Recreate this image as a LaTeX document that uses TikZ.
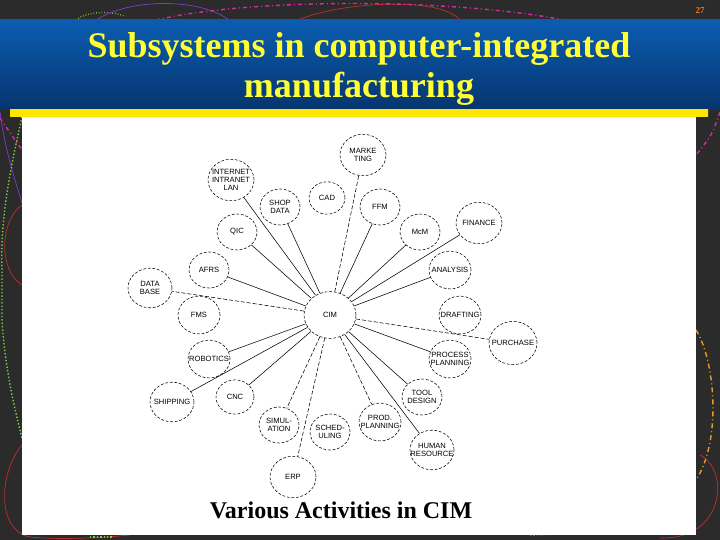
\documentclass[tikz,border=0pt]{standalone}
\usepackage{fontspec}
\setmainfont{Liberation Serif}
\setsansfont{Liberation Sans}
\usetikzlibrary{shapes.geometric}

\definecolor{slidegray}{HTML}{2B2B2B}
\definecolor{bannertop}{HTML}{0B5CB0}
\definecolor{bannermid}{HTML}{1E90E8}
\definecolor{bannerbot}{HTML}{06356E}
\definecolor{titleyellow}{HTML}{FFFF33}
\definecolor{baryellow}{HTML}{FFE600}
\definecolor{barred}{HTML}{FF1A00}
\definecolor{slidenum}{HTML}{E87820}
\definecolor{decopurple}{HTML}{7A3FC8}
\definecolor{decomag}{HTML}{D62AA8}
\definecolor{decored}{HTML}{C0302A}
\definecolor{decogreen}{HTML}{7FD23C}
\definecolor{decoorange}{HTML}{E89A2A}

\begin{document}
\begin{tikzpicture}[x=1pt, y=-1pt,
    act/.style={ellipse, draw, dash pattern=on 2.8pt off 1.8pt, line width=0.55pt,
      inner sep=0pt, minimum width=#1, minimum height=0.9*#1},
    act/.default=40pt,
    actlbl/.style={align=center, font=\sffamily\fontsize{7.6}{8}\selectfont},
    link/.style={line width=0.55pt},
    dlink/.style={line width=0.55pt, dash pattern=on 4pt off 2pt},
    deco/.style={line width=0.7pt}]
  \useasboundingbox (0,0) rectangle (720,540);
  % slide background
  \fill[slidegray] (0,0) rectangle (720,540);
  \draw[deco, decogreen, dotted, line width=1.4pt] (76,20) .. controls (85,12) and (110,10) .. (124,16);
  \draw[deco, decopurple] (96,20) .. controls (130,-2) and (200,-2) .. (229,20);
  \draw[deco, decored] (298,20) .. controls (340,2) and (440,-4) .. (460,20);
  \draw[decomag, line width=1.4pt, dash pattern=on 4pt off 3pt on 1pt off 3pt]
    (156,20) .. controls (250,-2) and (450,-2) .. (564,20);
  \draw[decomag, line width=1.4pt, dash pattern=on 4pt off 3pt on 1pt off 3pt]
    (720,112) .. controls (712,135) .. (696,155);
  \draw[decomag, line width=1.4pt, dash pattern=on 4pt off 3pt on 1pt off 3pt] (0,118) -- (22,150);
  \draw[deco, decopurple] (0,112) .. controls (5,150) and (15,180) .. (22,203);
  \draw[decogreen, dotted, line width=1.4pt] (22,117) .. controls (10,170) and (0,220) .. (2,270)
    -- (2,320) .. controls (5,370) and (15,410) .. (22,438);
  \draw[deco, decored] (22,205) .. controls (0,220) and (-2,270) .. (22,285);
  \draw[deco, decored] (22,445) .. controls (0,470) and (-5,530) .. (30,537)
    .. controls (60,540) and (100,538) .. (130,535);
  \draw[decogreen, dotted, line width=1.4pt] (90,537) -- (112,537);
  \draw[decoorange, line width=1.4pt, dash pattern=on 5pt off 3pt on 1pt off 3pt]
    (696,330) .. controls (715,360) and (722,440) .. (696,480);
  \draw[deco, decored] (700,455) .. controls (730,470) and (725,540) .. (660,538);
  \draw[decoorange, dotted, line width=1.4pt] (530,535) -- (590,533);
  % banner and panel
  \shade[top color=bannertop, middle color=bannermid, bottom color=bannerbot] (0,20) rectangle (720,110);
  \shade[left color=baryellow, middle color=barred, right color=baryellow] (10,110) rectangle (708,117);
  \fill[white] (22,117) rectangle (696,535);
  \node[font=\bfseries\fontsize{9}{10}\selectfont, text=slidenum] (pagenum) at (700,11) {27};
  \node[anchor=base, font=\bfseries\fontsize{36}{40}\selectfont, text=titleyellow] (title1) at (359,58) {Subsystems in computer-integrated};
  \node[anchor=base, font=\bfseries\fontsize{36}{40}\selectfont, text=titleyellow] (title2) at (359,98) {manufacturing};
  % activities
  \node[act=52pt, label={[actlbl]center:CIM}] (cim) at (330,315) {};
  \node[act=46pt, label={[actlbl]center:MARKE\\TING}] (mkt) at (363,155) {};
  \node[act=46pt, label={[actlbl]center:INTERNET\\INTRANET\\LAN}] (inet) at (231,180) {};
  \node[act, label={[actlbl]center:SHOP\\DATA}] (shop) at (280,207) {};
  \node[act=36pt, label={[actlbl]center:CAD}] (cad) at (327,198) {};
  \node[act, label={[actlbl]center:FFM}] (ffm) at (380,207) {};
  \node[act, label={[actlbl]center:McM}] (mcm) at (420,232) {};
  \node[act=46pt, label={[actlbl]center:FINANCE}] (fin) at (479,223) {};
  \node[act, label={[actlbl]center:QIC}] (qic) at (237,232) {};
  \node[act, label={[actlbl]center:AFRS}] (afrs) at (209,270) {};
  \node[act=42pt, label={[actlbl]center:ANALYSIS}] (anl) at (450,270) {};
  \node[act=44pt, label={[actlbl]center:DATA\\BASE}] (dbase) at (150,288) {};
  \node[act=42pt, label={[actlbl]center:FMS}] (fms) at (199,315) {};
  \node[act=42pt, label={[actlbl]center:DRAFTING}] (draft) at (460,315) {};
  \node[act=48pt, label={[actlbl]center:PURCHASE}] (purch) at (513,343) {};
  \node[act=42pt, label={[actlbl]center:ROBOTICS}] (rob) at (209,359) {};
  \node[act=42pt, label={[actlbl]center:PROCESS\\PLANNING}] (proc) at (450,359) {};
  \node[act=44pt, label={[actlbl]center:SHIPPING}] (ship) at (172,402) {};
  \node[act=38pt, label={[actlbl]center:CNC}] (cnc) at (235,397) {};
  \node[act, label={[actlbl]center:TOOL\\DESIGN}] (tool) at (422,397) {};
  \node[act, label={[actlbl]center:SIMUL-\\ATION}] (simu) at (279,425) {};
  \node[act, label={[actlbl]center:SCHED-\\ULING}] (sched) at (330,432) {};
  \node[act=42pt, label={[actlbl]center:PROD.\\PLANNING}] (prod) at (380,422) {};
  \node[act=44pt, label={[actlbl]center:HUMAN\\RESOURCE}] (hum) at (432,450) {};
  \node[act=46pt, label={[actlbl]center:ERP}] (erp) at (293,477) {};
  % links to CIM
  \foreach \n in {inet,shop,qic,afrs,rob,ship,cnc,hum,tool,proc,anl,fin,mcm,ffm}
    \draw[link] (cim) -- (\n);
  \foreach \n in {dbase,mkt,erp,purch,simu,prod}
    \draw[dlink] (cim) -- (\n);
  \node[anchor=base, font=\bfseries\fontsize{24}{28}\selectfont] (caption) at (341,518) {Various Activities in CIM};
\end{tikzpicture}
\end{document}
